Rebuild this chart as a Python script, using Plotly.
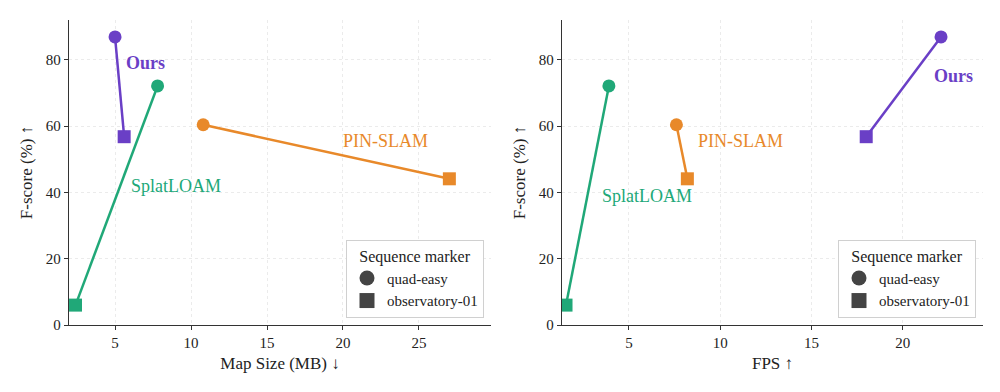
import plotly.graph_objects as go

methods = ["Ours", "SplatLOAM", "PIN-SLAM"]
colors = {"Ours": "#6a3fc6", "SplatLOAM": "#20a878", "PIN-SLAM": "#e8892a"}
sequences = ["quad-easy", "observatory-01"]

# F-score (%) for [quad-easy, observatory-01]
fscore = {"Ours": [86.9, 56.8], "SplatLOAM": [72.1, 6.0], "PIN-SLAM": [60.4, 44.1]}
# Map size (MB)
map_size = {"Ours": [5.0, 5.6], "SplatLOAM": [7.8, 2.4], "PIN-SLAM": [10.8, 27.0]}
# FPS
fps = {"Ours": [22.1, 18.0], "SplatLOAM": [3.9, 1.55], "PIN-SLAM": [7.6, 8.2]}

FONT = "Liberation Serif"
fig = go.Figure()

for xs, xa, ya in [(map_size, "x", "y"), (fps, "x2", "y2")]:
    for m in methods:
        fig.add_trace(go.Scatter(
            x=xs[m], y=fscore[m], xaxis=xa, yaxis=ya, mode="lines+markers",
            line=dict(color=colors[m], width=2.5),
            marker=dict(symbol=["circle", "square"], size=13, color=colors[m]),
            showlegend=False, hoverinfo="skip"))

for lg, xa, ya in [("legend", "x", "y"), ("legend2", "x2", "y2")]:
    for s, sym in zip(sequences, ["circle", "square"]):
        fig.add_trace(go.Scatter(
            x=[None], y=[None], xaxis=xa, yaxis=ya, mode="markers", name=s,
            marker=dict(symbol=sym, size=15, color="#444444"),
            legend=lg, showlegend=True))

axis_common = dict(
    showline=True, linecolor="#333333", linewidth=1.3, mirror=False,
    ticks="outside", ticklen=4, tickcolor="#333333", tickwidth=1,
    showgrid=True, gridcolor="#ebebeb", griddash="3px,3px", gridwidth=1,
    zeroline=False, tickfont=dict(family=FONT, size=15, color="#222"),
    automargin=False,
)
ydom = [1 - 325 / 392, 1 - 20 / 392]
fig.update_layout(
    width=1000, height=392, margin=dict(l=0, r=0, t=0, b=0, autoexpand=False),
    plot_bgcolor="white", paper_bgcolor="white",
    font=dict(family=FONT, color="#222"),
    xaxis=dict(domain=[0.069, 0.491], range=[1.97, 29.74], tickvals=[5, 10, 15, 20, 25],
               title=dict(text="Map Size (MB) ↓", font=dict(family=FONT, size=17), standoff=6), **axis_common),
    yaxis=dict(domain=ydom, range=[0, 92], tickvals=[0, 20, 40, 60, 80], anchor="x",
               title=dict(text="F-score (%) ↑", font=dict(family=FONT, size=17), standoff=8), **axis_common),
    xaxis2=dict(domain=[0.562, 0.983], range=[1.33, 24.4], tickvals=[5, 10, 15, 20], anchor="y2",
                title=dict(text="FPS ↑", font=dict(family=FONT, size=17), standoff=6), **axis_common),
    yaxis2=dict(domain=ydom, range=[0, 92], tickvals=[0, 20, 40, 60, 80], anchor="x2",
                title=dict(text="F-score (%) ↑", font=dict(family=FONT, size=17), standoff=8), **axis_common),
)

leg_common = dict(
    bgcolor="white", bordercolor="#d0d0d0", borderwidth=1,
    font=dict(family=FONT, size=15, color="#222"),
    title=dict(text="Sequence marker", side="top center", font=dict(family=FONT, size=16, color="#222")),
    xanchor="right", yanchor="bottom", itemsizing="trace",
)
fig.update_layout(
    legend=dict(x=0.484, y=1 - 318 / 392, **leg_common),
    legend2=dict(x=0.976, y=1 - 318 / 392, **leg_common),
)

labels = [
    ("x", "y", 7.0, 79.0, "<b>Ours</b>", "Ours"),
    ("x", "y", 22.8, 55.5, "PIN-SLAM", "PIN-SLAM"),
    ("x", "y", 9.0, 42.0, "SplatLOAM", "SplatLOAM"),
    ("x2", "y2", 22.8, 75.0, "<b>Ours</b>", "Ours"),
    ("x2", "y2", 11.1, 55.5, "PIN-SLAM", "PIN-SLAM"),
    ("x2", "y2", 6.0, 39.0, "SplatLOAM", "SplatLOAM"),
]
for xa, ya, x, y, t, m in labels:
    fig.add_annotation(x=x, y=y, xref=xa, yref=ya, text=t, showarrow=False,
                       font=dict(family=FONT, size=18, color=colors[m]))

fig.write_html("out.html")
